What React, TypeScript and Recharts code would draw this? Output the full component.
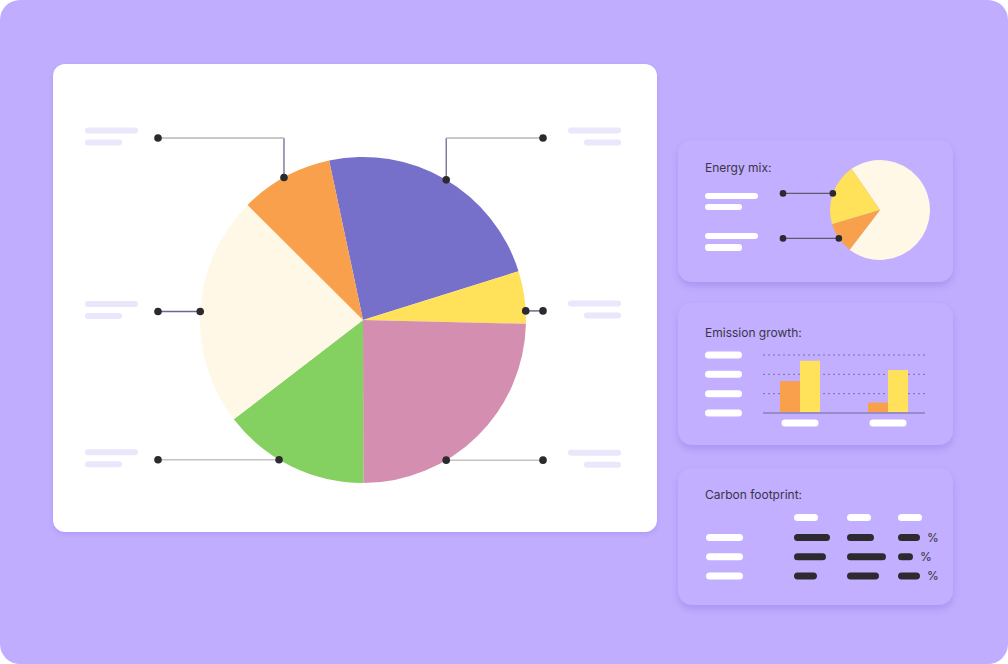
import React from 'react';
import { PieChart, Pie, Cell, BarChart, Bar, XAxis, YAxis, CartesianGrid, LabelList } from 'recharts';

// ---------- data ----------
const mainNames = ['Wind', 'Solar', 'Hydro', 'Nuclear', 'Coal', 'Gas'];
const mainValues = [23.5, 5.2, 24.6, 14.6, 22.9, 9.2];

const mixNames = ['Fossil', 'Renewable', 'Other'];
const mixValues = [70, 20, 10];

const growthGroups = ['2022', '2023'];
const growthPrev = [16.5, 5.4];
const growthCurr = [27, 22.2];
const growthTicks = [0, 10, 20, 30];

const footprintRows = ['Row A', 'Row B', 'Row C'];
const footprintCol1 = [36, 32, 23];
const footprintCol2 = [27, 39, 32];
const footprintCol3 = [22, 15, 22];

// ---------- styles ----------
const MAIN_COLORS = ['#7670CB', '#FFE15A', '#D48FB0', '#84D162', '#FFF8E6', '#F9A04C'];
const MIX_COLORS = ['#FFF8E6', '#FFE15A', '#F9A04C'];
const BG = '#C0ADFE';
const PANEL = '#C2AFFF';
const DARK = '#2B2A2E';
const PILL_LIGHT = '#EAE6FB';
const RAD = Math.PI / 180;

// callout layout for the main pie (per slice index)
const CALLOUT_ANGLE = [59.3, 3.2, -59.3, -121, 177, 119];
const CALLOUT_SIDE = [1, 1, 1, -1, -1, -1];
const CALLOUT_ELBOW = [true, false, false, false, false, true];
const CALLOUT_LINE = ['#B9B7B3', '#6D6890', '#C4C2C2', '#C4C2C2', '#6D6890', '#B9B7B3'];

const mainData = mainNames.map((name, i) => ({ name, value: mainValues[i] }));
const mixData = mixNames.map((name, i) => ({ name, value: mixValues[i] }));
const growthData = growthGroups.map((g, i) => ({ group: g, prev: growthPrev[i], curr: growthCurr[i] }));
const footprintData = footprintRows.map((r, i) => ({
  row: r,
  c1: footprintCol1[i],
  c2: footprintCol2[i],
  c3: footprintCol3[i],
}));

const renderMainLabel = (p: any) => {
  const { cx, cy, outerRadius, index } = p;
  const a = CALLOUT_ANGLE[index] * RAD;
  const ax = cx + outerRadius * Math.cos(a);
  const ay = cy - outerRadius * Math.sin(a);
  const side = CALLOUT_SIDE[index];
  const endX = side > 0 ? cx + 180 : cx - 205;
  const lineY = CALLOUT_ELBOW[index] ? cy - 182 : ay;
  const pillX1 = side > 0 ? cx + 205 : cx - 278;
  const pillX2 = side > 0 ? cx + 221 : cx - 278;
  return (
    <g key={`c-${index}`}>
      {CALLOUT_ELBOW[index] && (
        <line x1={ax} y1={ay} x2={ax} y2={lineY} stroke="#6D6890" strokeWidth={1.3} />
      )}
      <line x1={ax} y1={lineY} x2={endX} y2={lineY} stroke={CALLOUT_LINE[index]} strokeWidth={1.5} />
      <circle cx={ax} cy={ay} r={3.8} fill={DARK} />
      <circle cx={endX} cy={lineY} r={3.8} fill={DARK} />
      <rect x={pillX1} y={lineY - 10.5} width={53} height={6} rx={3} fill={PILL_LIGHT} />
      <rect x={pillX2} y={lineY + 1.5} width={37} height={6} rx={3} fill={PILL_LIGHT} />
    </g>
  );
};

const renderMixLabel = (p: any) => {
  const { cx, cy, outerRadius, midAngle, index } = p;
  if (index === 0) return null;
  const ax = cx + outerRadius * Math.cos(midAngle * RAD);
  const ay = cy - outerRadius * Math.sin(midAngle * RAD);
  const endX = cx - 97;
  return (
    <g key={`m-${index}`}>
      <line x1={ax} y1={ay} x2={endX} y2={ay} stroke="#5E5A66" strokeWidth={1.3} />
      <circle cx={ax} cy={ay} r={3.3} fill={DARK} />
      <circle cx={endX} cy={ay} r={3.3} fill={DARK} />
    </g>
  );
};

const YTickPill = (p: any) => (
  <rect x={5} y={p.y - 3.5} width={37} height={7} rx={3.5} fill="#fff" />
);
const XTickPill = (p: any) => (
  <rect x={p.x - 18.5} y={74.5} width={37} height={7} rx={3.5} fill="#fff" />
);
const RowTickPill = (p: any) => (
  <rect x={0} y={p.y - 3.5} width={37} height={7} rx={3.5} fill="#fff" />
);

const abs = (left: number, top: number, width: number, height: number): React.CSSProperties => ({
  position: 'absolute',
  left,
  top,
  width,
  height,
});

const Pill = ({ x, y, w, h = 7, color = '#fff' }: { x: number; y: number; w: number; h?: number; color?: string }) => (
  <div style={{ ...abs(x, y, w, h), background: color, borderRadius: h / 2 }} />
);

const titleStyle = (left: number, top: number): React.CSSProperties => ({
  position: 'absolute',
  left,
  top,
  fontFamily: 'Inter, "Noto Sans", sans-serif',
  fontSize: 12,
  lineHeight: '16px',
  color: '#3A3546',
  whiteSpace: 'nowrap',
});

const panelStyle = (top: number, height: number): React.CSSProperties => ({
  ...abs(678, top, 275, height),
  background: PANEL,
  borderRadius: 14,
  boxShadow: '0 4px 6px rgba(110, 80, 210, 0.25)',
});

export default function App() {
  return (
    <div style={{ position: 'absolute', left: 0, top: 0, width: 1008, height: 664, background: '#fff', overflow: 'hidden' }}>
      <div style={{ ...abs(0, 0, 1008, 664), background: BG, borderRadius: 20 }} />

      {/* main white card */}
      <div style={{ ...abs(53, 64, 604, 468), background: '#fff', borderRadius: 12, boxShadow: '0 2px 4px rgba(110, 80, 210, 0.2)' }} />
      <div style={abs(53, 64, 604, 468)}>
        <PieChart width={604} height={468} margin={{ top: 0, right: 0, bottom: 0, left: 0 }}>
          <Pie
            data={mainData}
            dataKey="value"
            nameKey="name"
            cx={310}
            cy={256}
            outerRadius={163}
            startAngle={102}
            endAngle={-258}
            stroke="none"
            label={renderMainLabel}
            labelLine={false}
            isAnimationActive={false}
          >
            {mainData.map((d, i) => (
              <Cell key={d.name} fill={MAIN_COLORS[i]} />
            ))}
          </Pie>
        </PieChart>
      </div>

      {/* panel 1: energy mix */}
      <div style={panelStyle(140, 142)} />
      <div style={titleStyle(705, 160)}>Energy mix:</div>
      <Pill x={705} y={192.5} w={53} h={6.5} />
      <Pill x={705} y={203.5} w={37} h={6.5} />
      <Pill x={705} y={232.5} w={53} h={6.5} />
      <Pill x={705} y={244} w={37} h={6.5} />
      <div style={abs(678, 140, 275, 142)}>
        <PieChart width={275} height={142} margin={{ top: 0, right: 0, bottom: 0, left: 0 }}>
          <Pie
            data={mixData}
            dataKey="value"
            nameKey="name"
            cx={202}
            cy={70}
            outerRadius={50}
            startAngle={-127.4}
            endAngle={232.6}
            stroke="none"
            label={renderMixLabel}
            labelLine={false}
            isAnimationActive={false}
          >
            {mixData.map((d, i) => (
              <Cell key={d.name} fill={MIX_COLORS[i]} />
            ))}
          </Pie>
        </PieChart>
      </div>

      {/* panel 2: emission growth */}
      <div style={panelStyle(303, 142)} />
      <div style={titleStyle(705, 325)}>Emission growth:</div>
      <div style={abs(700, 345, 235, 90)}>
        <BarChart
          width={235}
          height={90}
          data={growthData}
          barGap={0}
          margin={{ top: 10, right: 10, bottom: 2, left: 0 }}
        >
          <CartesianGrid vertical={false} strokeDasharray="2 3" stroke="#7A70A6" />
          <YAxis
            type="number"
            domain={[0, 30]}
            ticks={growthTicks}
            width={63}
            axisLine={false}
            tickLine={false}
            tick={YTickPill}
            interval={0}
          />
          <XAxis
            dataKey="group"
            height={20}
            axisLine={{ stroke: '#978CC9', strokeWidth: 2 }}
            tickLine={false}
            tick={XTickPill}
            interval={0}
            padding={{ left: -7, right: -7 }}
          />
          <Bar dataKey="prev" fill="#F9A04C" barSize={20} isAnimationActive={false} />
          <Bar dataKey="curr" fill="#FFE15A" barSize={20} isAnimationActive={false} />
        </BarChart>
      </div>

      {/* panel 3: carbon footprint */}
      <div style={panelStyle(468, 137)} />
      <div style={titleStyle(705, 487)}>Carbon footprint:</div>
      <Pill x={794} y={514} w={24} />
      <Pill x={847} y={514} w={24} />
      <Pill x={898} y={514} w={24} />
      <div style={abs(706, 528.1, 128, 57.6)}>
        <BarChart width={128} height={57.6} data={footprintData} layout="vertical" margin={{ top: 0, right: 0, bottom: 0, left: 0 }}>
          <XAxis type="number" domain={[0, 40]} hide />
          <YAxis type="category" dataKey="row" width={88} axisLine={false} tickLine={false} tick={RowTickPill} interval={0} />
          <Bar dataKey="c1" fill="#2E2B30" barSize={7} radius={3.5} isAnimationActive={false} />
        </BarChart>
      </div>
      <div style={abs(847, 528.1, 40, 57.6)}>
        <BarChart width={40} height={57.6} data={footprintData} layout="vertical" margin={{ top: 0, right: 0, bottom: 0, left: 0 }}>
          <XAxis type="number" domain={[0, 40]} hide />
          <YAxis type="category" dataKey="row" hide />
          <Bar dataKey="c2" fill="#2E2B30" barSize={7} radius={3.5} isAnimationActive={false} />
        </BarChart>
      </div>
      <div style={abs(898, 528.1, 60, 57.6)}>
        <BarChart width={60} height={57.6} data={footprintData} layout="vertical" margin={{ top: 0, right: 20, bottom: 0, left: 0 }}>
          <XAxis type="number" domain={[0, 40]} hide />
          <YAxis type="category" dataKey="row" hide />
          <Bar dataKey="c3" fill="#2E2B30" barSize={7} radius={3.5} isAnimationActive={false}>
            <LabelList
              dataKey="c3"
              position="right"
              offset={7}
              formatter={() => '%'}
              fill="#333"
              fontSize={12}
              fontFamily='Inter, "Noto Sans", sans-serif'
            />
          </Bar>
        </BarChart>
      </div>
    </div>
  );
}
